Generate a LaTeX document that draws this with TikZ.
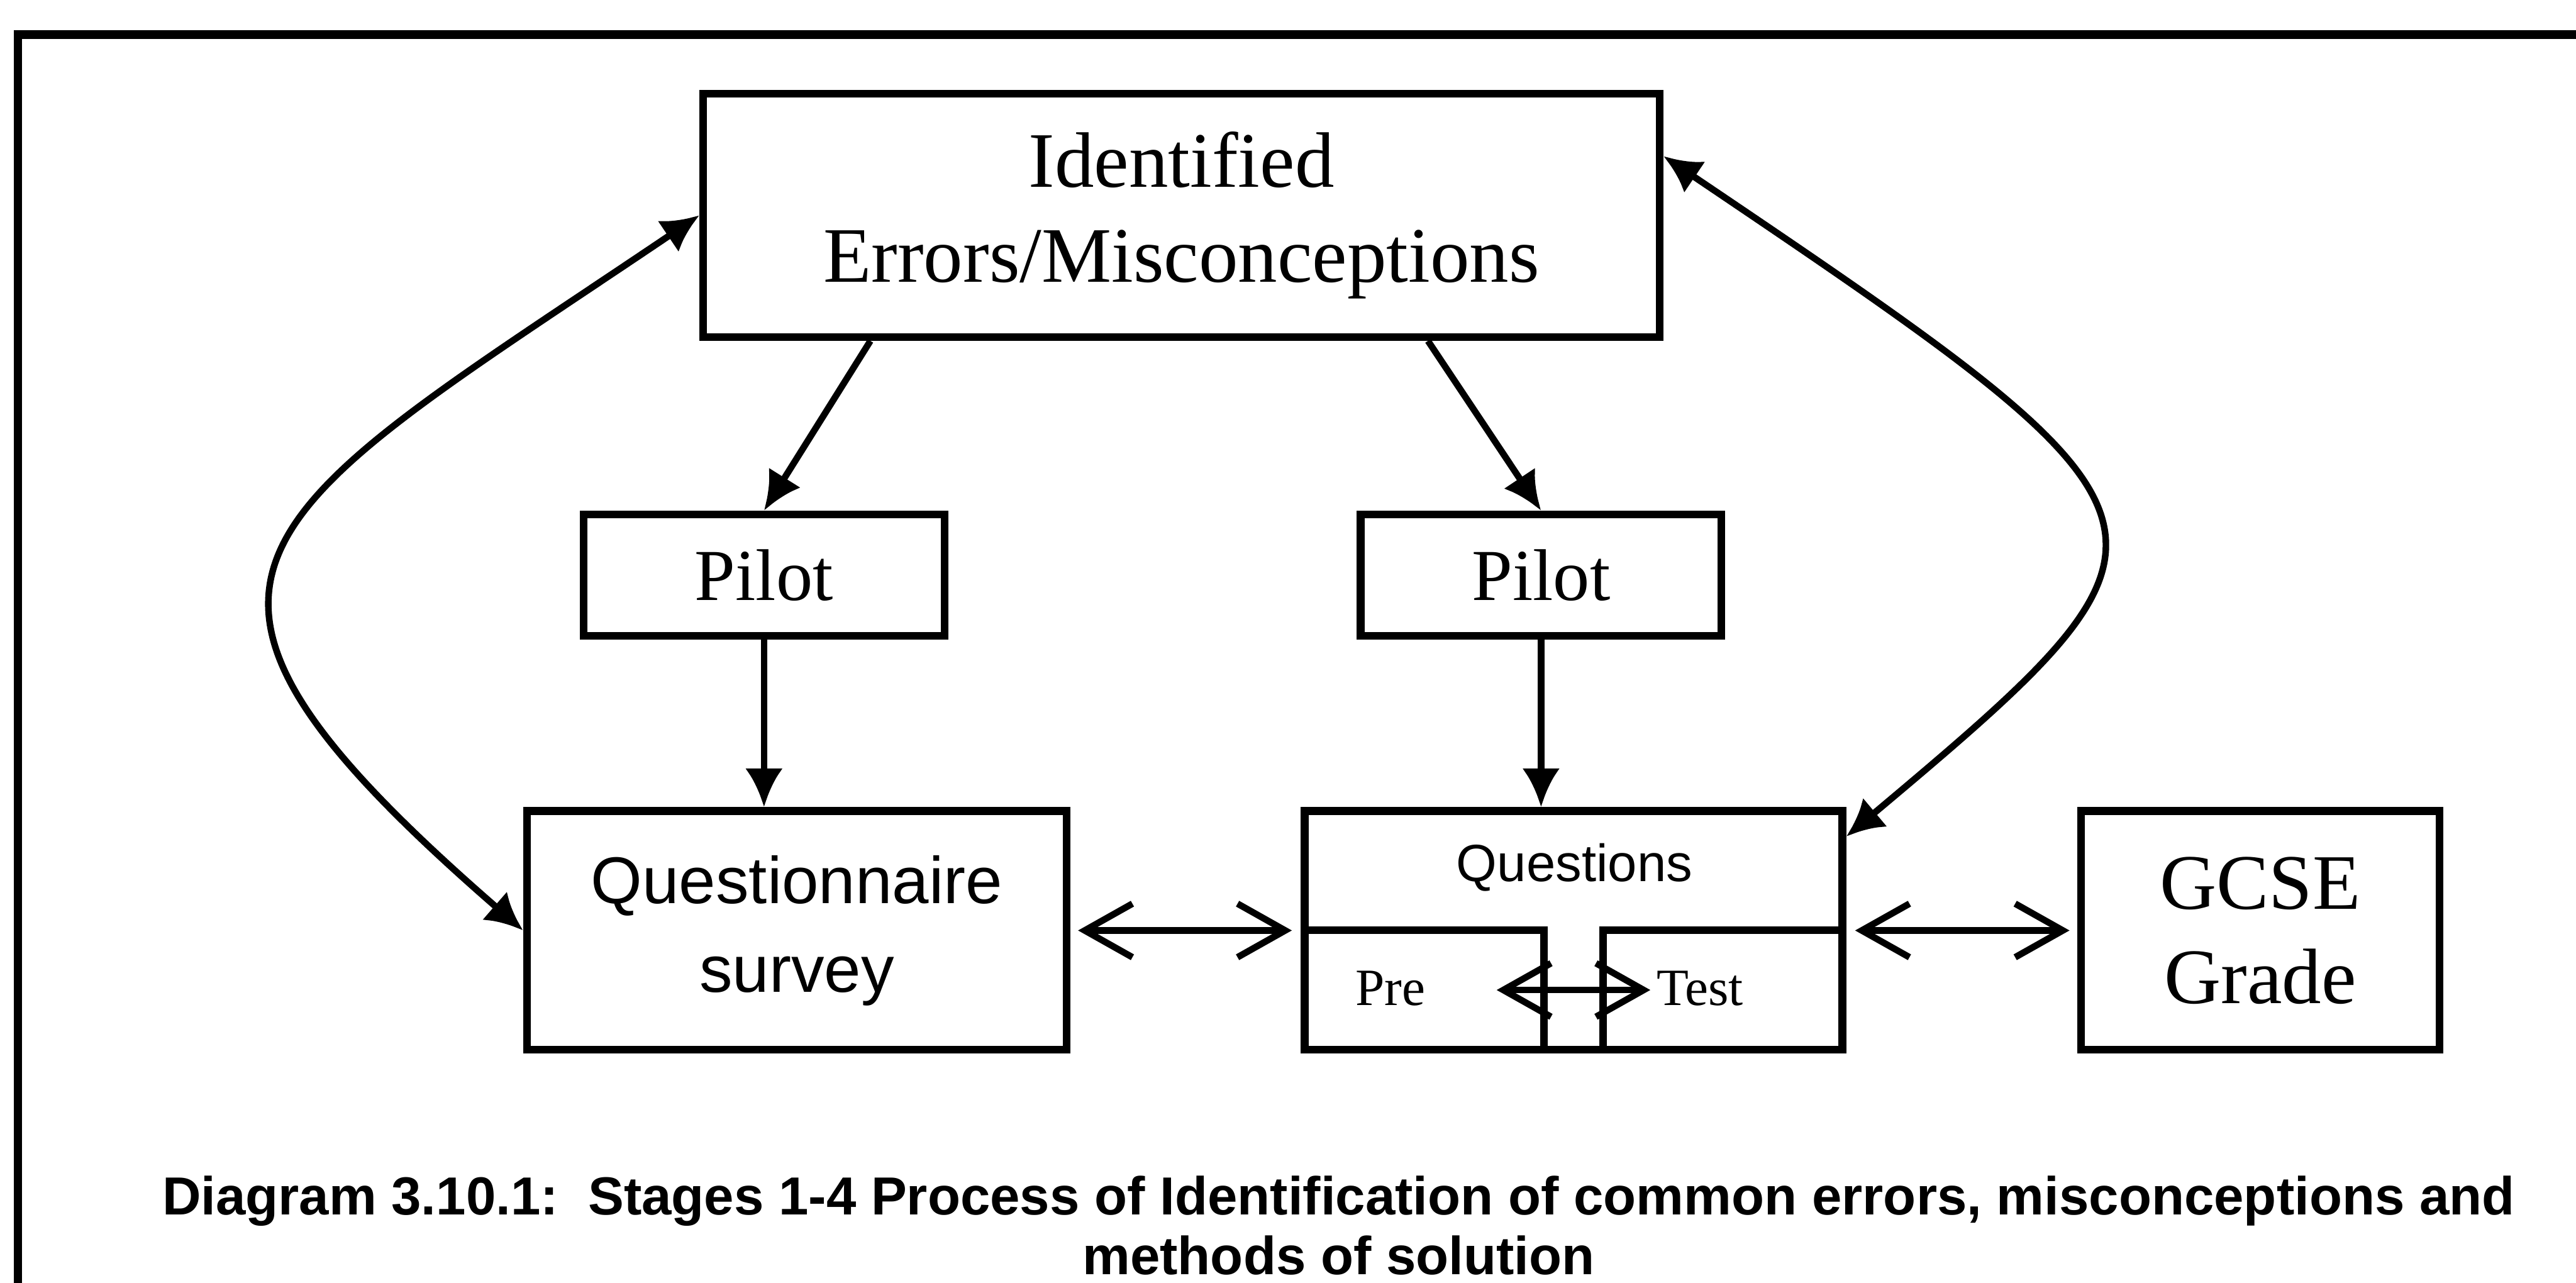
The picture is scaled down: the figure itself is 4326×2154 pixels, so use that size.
\documentclass[tikz,border=0pt]{standalone}
\usepackage{fontspec}
\setmainfont{Liberation Serif}
\setsansfont{Liberation Sans}
\usetikzlibrary{arrows.meta,positioning}
\tikzstyle{stage}=[draw,line width=1.3pt,inner sep=0pt,align=center]
\tikzstyle{pilot}=[minimum width=60.6pt,minimum height=20.4pt,font=\fontsize{12.3}{14}\selectfont]
\tikzstyle{lower}=[minimum height=40.1pt]
\tikzstyle{arr}=[-{Latex[length=6.5pt,width=6.3pt]},line width=1.1pt]
\tikzstyle{feed}=[{Latex[length=6.3pt,width=6.3pt]}-{Latex[length=6.3pt,width=6.3pt]},line width=1.1pt]
\tikzstyle{barbs}=[{Straight Barb[length=8pt,width=9pt]}-{Straight Barb[length=8pt,width=9pt]},line width=1.1pt]

\begin{document}
\begin{tikzpicture}[x=0.1pt, y=-0.1pt, node distance=10pt, on grid]
  \useasboundingbox (0,0) rectangle (4326,2154);
  \draw[line width=1.4pt] (30,2154) -- (30,58) -- (4326,58);

  \node[stage, minimum width=160.6pt, minimum height=40.9pt,
    font=\fontsize{13.2}{15.9}\selectfont] (errors) at (1984,361.5) {Identified\\Errors/Misconceptions};
  \node[stage, pilot, below left=60.45pt and 70.1pt of errors] (pilotl) {Pilot};
  \node[stage, pilot, below right=60.45pt and 60.4pt of errors] (pilotr) {Pilot};

  \node[stage, lower, minimum width=90.6pt, font=\sffamily\fontsize{11.1}{14.9}\selectfont]
    (qsurvey) at (1338,1562.5) {Questionnaire\\survey};
  \node[stage, lower, minimum width=90.3pt, right=130.45pt of qsurvey] (quest) {};
  \node[stage, lower, minimum width=60.2pt, right=115.35pt of quest,
    font=\fontsize{13.2}{15.8}\selectfont] (gcse) {GCSE\\Grade};
  \node[stage, minimum width=40.2pt, minimum height=20.1pt, anchor=south west] (pre) at (quest.south west) {};
  \node[stage, minimum width=40.2pt, minimum height=20.1pt, anchor=south east] (test) at (quest.south east) {};

  \node[font=\sffamily\fontsize{8.8}{10}\selectfont] (questtxt) at (2644,1457) {Questions};
  \node[font=\fontsize{8.8}{10}\selectfont] (pretxt) at (2335,1660) {Pre};
  \node[font=\fontsize{8.8}{10}\selectfont] (testtxt) at (2855,1660) {Test};

  \draw[arr] (errors.202) -- (pilotl.north);
  \draw[arr] (errors.-27) -- (pilotr.north);
  \draw[arr] (pilotl.south) -- (pilotl.south |- qsurvey.north);
  \draw[arr] (pilotr.south) -- (pilotr.south |- quest.north);

  \draw[barbs, shorten <=1.3pt, shorten >=1.5pt] (qsurvey.east) -- (quest.west);
  \draw[barbs, shorten <=1.5pt, shorten >=1.3pt] (quest.east) -- (gcse.west);
  \draw[barbs, shorten <=-8.6pt, shorten >=-8.6pt] (pre.east) -- (test.west);

  \draw[feed] (errors.west) to[out=214, in=139, distance=92pt] (qsurvey.west);
  \draw[feed] (errors.7) to[out=-34, in=40, out distance=110pt, in distance=80pt] (quest.19);

  \node[font=\sffamily\bfseries\fontsize{9}{10}\selectfont, align=center] (caption) at (2248,2058)
    {Diagram 3.10.1:\ \ Stages 1-4 Process of Identification of common errors, misconceptions and\\methods of solution};
\end{tikzpicture}
\end{document}
